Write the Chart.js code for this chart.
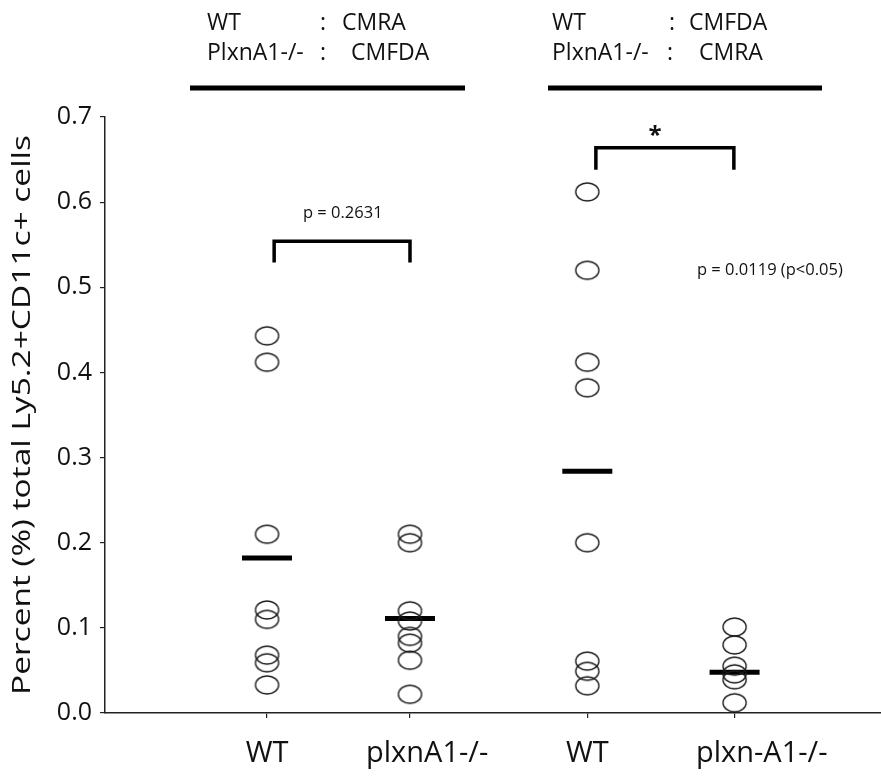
<!DOCTYPE html>
<html><head><meta charset="utf-8">
<script src="https://cdn.jsdelivr.net/npm/chart.js@4"></script>
<style>html,body{margin:0;padding:0;background:#fff}#wrap{width:881px;height:780px}</style>
</head><body><div id="wrap"><canvas id="c"></canvas></div>
<script>
// ---- data ----
const categories = ['WT', 'plxnA1-/-', 'WT', 'plxn-A1-/-'];
const groupX = [1, 2, 3.24, 4.27];
const labelX = [1.0, 2.12, 3.24, 4.46];
const wtCMRA = [0.443, 0.412, 0.210, 0.121, 0.110, 0.068, 0.059, 0.033];
const koCMFDA = [0.210, 0.200, 0.120, 0.108, 0.090, 0.082, 0.062, 0.022];
const wtCMFDA = [0.612, 0.520, 0.412, 0.382, 0.200, 0.061, 0.049, 0.032];
const koCMRA = [0.101, 0.080, 0.055, 0.046, 0.039, 0.012];
const groupMeans = [0.182, 0.111, 0.284, 0.048];
const yTicks = [0, 0.1, 0.2, 0.3, 0.4, 0.5, 0.6, 0.7];
const bracket1X = [1.05, 1.05, 2.0, 2.0];
const bracket1Y = [0.529, 0.554, 0.554, 0.529];
const bracket2X = [3.30, 3.30, 4.265, 4.265];
const bracket2Y = [0.638, 0.664, 0.664, 0.638];
const pText1 = 'p = 0.2631';
const pText2 = 'p = 0.0119 (p<0.05)';
const yTitle = 'Percent (%) total Ly5.2+CD11c+ cells';
const headerLeft = [['WT', 'CMRA'], ['PlxnA1-/-', 'CMFDA']];
const headerRight = [['WT', 'CMFDA'], ['PlxnA1-/-', 'CMRA']];

// ---- helpers ----
function pts(xv, ys) { return ys.map(y => ({x: xv, y: y})); }
function xy(xs, ys) { return xs.map((x, i) => ({x: x, y: ys[i]})); }

const ell = document.createElement('canvas');
ell.width = 27; ell.height = 22;
(function () {
  const g = ell.getContext('2d');
  g.strokeStyle = '#1a1a1a'; g.lineWidth = 1.3;
  g.beginPath(); g.ellipse(13.5, 11, 11.6, 9, 0, 0, Math.PI * 2); g.stroke();
})();

const CF = '"Open Sans", "Noto Sans", sans-serif';
const NARROW = '"Liberation Sans Narrow", "Open Sans", sans-serif';

const circleDs = (xv, ys) => ({
  type: 'scatter', data: pts(xv, ys), pointStyle: ell, pointRadius: 11, showLine: false
});

const annot = {
  id: 'annot',
  afterDraw(chart) {
    const ctx = chart.ctx, xs = chart.scales.x, ys = chart.scales.y;
    ctx.save();
    ctx.fillStyle = '#111';
    // x category labels
    ctx.font = '29px ' + CF; ctx.textAlign = 'center'; ctx.textBaseline = 'alphabetic';
    categories.forEach((c, i) => ctx.fillText(c, xs.getPixelForValue(labelX[i]), 762));
    // header blocks
    ctx.font = '23px ' + CF; ctx.textAlign = 'left';
    const drawHeader = (rows, x0, c1, v1, c2, v2) => {
      ctx.fillText(rows[0][0], x0, 30); ctx.fillText(':', c1, 30); ctx.fillText(rows[0][1], v1, 30);
      ctx.fillText(rows[1][0], x0, 60); ctx.fillText(':', c2, 60); ctx.fillText(rows[1][1], v2, 60);
    };
    drawHeader(headerLeft, 207, 320, 342, 320, 351);
    drawHeader(headerRight, 552, 669, 689, 667, 699);
    ctx.lineWidth = 5; ctx.strokeStyle = '#000';
    ctx.beginPath(); ctx.moveTo(190, 88); ctx.lineTo(465, 88); ctx.stroke();
    ctx.beginPath(); ctx.moveTo(548, 88); ctx.lineTo(822, 88); ctx.stroke();
    // y title (stretched along its length to span the axis)
    ctx.font = '25px ' + CF; ctx.textAlign = 'center'; ctx.textBaseline = 'middle';
    const w = ctx.measureText(yTitle).width;
    ctx.save();
    ctx.translate(23, 415); ctx.rotate(-Math.PI / 2); ctx.scale(560 / w, 1);
    ctx.fillText(yTitle, 0, 0);
    ctx.restore();
    // p-values
    ctx.font = '16.5px ' + NARROW; ctx.textAlign = 'center'; ctx.textBaseline = 'middle';
    ctx.fillText(pText1, xs.getPixelForValue(1.53), ys.getPixelForValue(0.587));
    ctx.textAlign = 'left';
    ctx.fillText(pText2, xs.getPixelForValue(4.007), ys.getPixelForValue(0.520));
    ctx.font = 'bold 24px ' + CF; ctx.textAlign = 'center';
    ctx.fillText('*', xs.getPixelForValue(3.713), ys.getPixelForValue(0.678));
    ctx.restore();
  }
};

new Chart(document.getElementById('c'), {
  type: 'scatter',
  data: {
    datasets: [
      circleDs(groupX[0], wtCMRA),
      circleDs(groupX[1], koCMFDA),
      circleDs(groupX[2], wtCMFDA),
      circleDs(groupX[3], koCMRA),
      { type: 'scatter', data: groupMeans.map((m, i) => ({x: groupX[i], y: m})),
        pointStyle: 'line', pointRadius: 25, borderColor: '#000', borderWidth: 5, backgroundColor: '#000' },
      { type: 'scatter', data: xy(bracket1X, bracket1Y), showLine: true, pointRadius: 0,
        borderColor: '#000', borderWidth: 3.5, borderCapStyle: 'butt', borderJoinStyle: 'miter' },
      { type: 'scatter', data: xy(bracket2X, bracket2Y), showLine: true, pointRadius: 0,
        borderColor: '#000', borderWidth: 3.5, borderCapStyle: 'butt', borderJoinStyle: 'miter' }
    ]
  },
  options: {
    responsive: true, maintainAspectRatio: false, animation: false,
    layout: { autoPadding: false, padding: { top: 117, left: 0, right: 0, bottom: 0 } },
    plugins: { legend: { display: false }, tooltip: { enabled: false } },
    scales: {
      x: {
        type: 'linear', min: -0.133, max: 5.294,
        afterBuildTicks: s => { s.ticks = groupX.map(v => ({value: v})); },
        afterFit: s => { s.height = 67; },
        ticks: { display: false },
        grid: { drawOnChartArea: false, drawTicks: true, tickLength: 5, color: '#222', lineWidth: 1.2 },
        border: { color: '#222', width: 1.5 }
      },
      y: {
        min: 0, max: 0.7,
        afterBuildTicks: s => { s.ticks = yTicks.map(v => ({value: v})); },
        afterFit: s => { s.width = 105; },
        ticks: { callback: v => Number(v).toFixed(1), color: '#111', padding: 8,
                 font: { family: CF, size: 25 } },
        grid: { drawOnChartArea: false, drawTicks: true, tickLength: 5, color: '#222', lineWidth: 1.2 },
        border: { color: '#222', width: 1.5 },
        title: { display: false }
      }
    }
  },
  plugins: [annot]
});
</script>
</body></html>
